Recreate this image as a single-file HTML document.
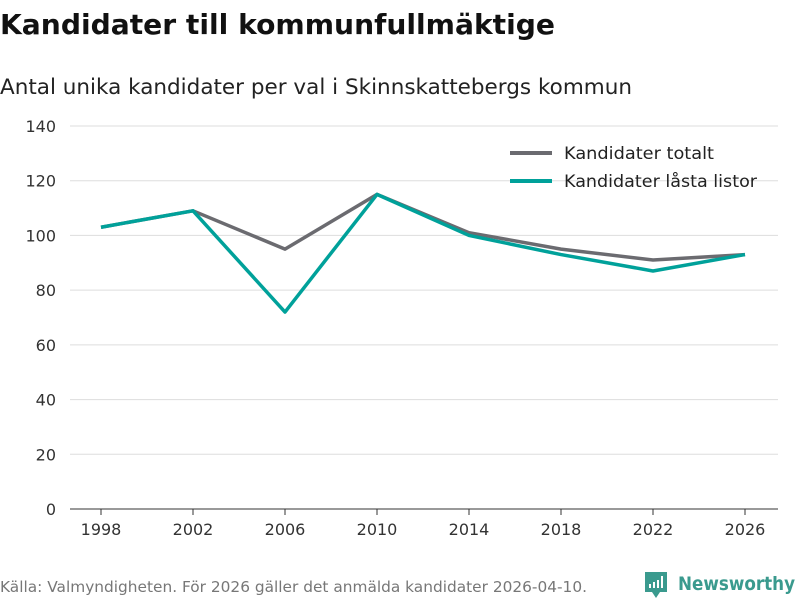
<!DOCTYPE html>
<html><head><meta charset="utf-8"><style>
body{margin:0;width:800px;height:600px;background:#fff;font-family:"DejaVu Sans","Liberation Sans",sans-serif;overflow:hidden}
</style></head><body>
<svg width="800" height="600">
<text x="0" y="34" font-size="28" font-weight="bold" fill="#111" textLength="555" lengthAdjust="spacingAndGlyphs">Kandidater till kommunfullmäktige</text>
<text x="0" y="94" font-size="21" fill="#222" textLength="632" lengthAdjust="spacingAndGlyphs">Antal unika kandidater per val i Skinnskattebergs kommun</text>
<g id="grid"></g>
<g id="yt"></g>
<g id="xt"></g>
<g id="lines"></g>
<g>
<g><line x1="510" y1="153" x2="552" y2="153" stroke="#6b6b70" stroke-width="4"/><text x="564" y="159" font-size="17" fill="#222" textLength="150" lengthAdjust="spacingAndGlyphs">Kandidater totalt</text></g>
<g><line x1="510" y1="181" x2="552" y2="181" stroke="#00a19a" stroke-width="4"/><text x="564" y="187" font-size="17" fill="#222" textLength="193" lengthAdjust="spacingAndGlyphs">Kandidater låsta listor</text></g>
</g>
<text x="0" y="592" font-size="15" fill="#777" textLength="587" lengthAdjust="spacingAndGlyphs">Källa: Valmyndigheten. För 2026 gäller det anmälda kandidater 2026-04-10.</text>
<g>
<path d="M645 572h22v20h-7l-4 6l-4-6h-7z" fill="#3a9a8e"/>
<rect x="649" y="584" width="2" height="4" fill="#fff"/><rect x="653" y="582" width="2" height="6" fill="#fff"/><rect x="657" y="580" width="2" height="8" fill="#fff"/><rect x="661" y="576" width="2" height="12" fill="#fff"/>
<text x="678" y="590" font-size="19" font-weight="bold" fill="#3a9a8e" textLength="117" lengthAdjust="spacingAndGlyphs">Newsworthy</text>
</g>
</svg>
<script>
const years=[1998,2002,2006,2010,2014,2018,2022,2026];
const totalt=[103,109,95,115,101,95,91,93];
const lasta=[103,109,72,115,100,93,87,93];
const yTicks=[0,20,40,60,80,100,120,140];
const NS="http://www.w3.org/2000/svg";
const x=v=>101+(v-1998)*(644/28);
const y=v=>509-v*(383/140);
function mk(tag,attrs,parent,txt){const e=document.createElementNS(NS,tag);for(const k in attrs)e.setAttribute(k,attrs[k]);if(txt!==undefined)e.textContent=txt;parent.appendChild(e);return e;}
const grid=document.getElementById('grid'),yt=document.getElementById('yt'),xt=document.getElementById('xt'),lines=document.getElementById('lines');
yTicks.forEach(t=>{
 const l=mk('line',{x1:70,x2:778,y1:y(t),y2:y(t),stroke:t===0?'#333':'#ddd','stroke-width':1},grid);
 
 
 const tx=mk('text',{x:56,y:y(t)+6,'font-size':16,fill:'#333','text-anchor':'end'},yt,t);
 
 
});
years.forEach(yr=>{
 mk('line',{x1:x(yr),x2:x(yr),y1:509,y2:515,stroke:'#333'},xt);
 const tx=mk('text',{x:x(yr),y:535,'font-size':16,fill:'#333','text-anchor':'middle'},xt,yr);
 
 
});
[[totalt,'#6b6b70','line-totalt'],[lasta,'#00a19a','line-lasta']].forEach(([d,c,n])=>{
 const p=mk('polyline',{points:d.map((v,i)=>x(years[i])+','+y(v)).join(' '),fill:'none',stroke:c,'stroke-width':3.5,'stroke-linejoin':'round'},lines);
 
 
});
</script>
</body></html>
